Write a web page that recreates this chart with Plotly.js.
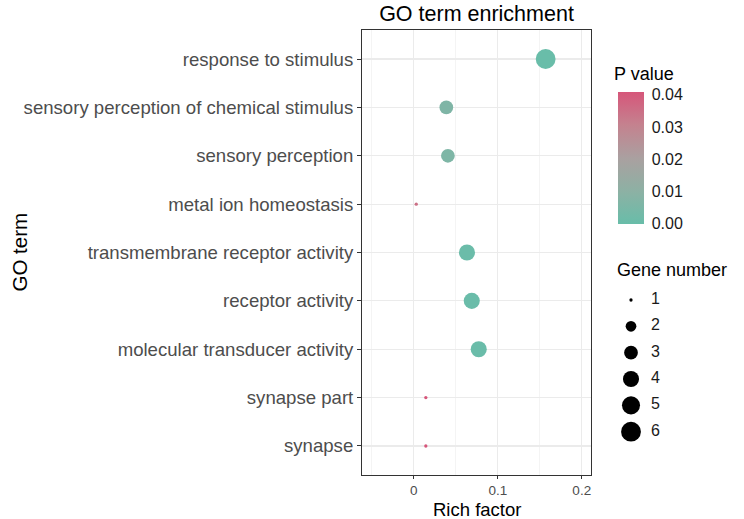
<!DOCTYPE html>
<html>
<head>
<meta charset="utf-8">
<script src="https://cdn.plot.ly/plotly-3.0.1.min.js"></script>
<style>body{margin:0;background:#fff}</style>
</head>
<body>
<div id="chart" style="width:744px;height:519px"></div>
<script>
// ---- data ----
const goTerms = [
  "response to stimulus",
  "sensory perception of chemical stimulus",
  "sensory perception",
  "metal ion homeostasis",
  "transmembrane receptor activity",
  "receptor activity",
  "molecular transducer activity",
  "synapse part",
  "synapse"
];
const richFactor = [0.157, 0.0387, 0.0406, 0.0029, 0.0633, 0.069, 0.0773, 0.0143, 0.0143];
const pValue     = [0.0003, 0.0065, 0.0062, 0.035, 0.0008, 0.0006, 0.0005, 0.041, 0.041];
const geneNumber = [6, 3, 3, 1, 4, 4, 4, 1, 1];
const sizeLegendValues = [1, 2, 3, 4, 5, 6];
const sizeLegendLabels = ["1", "2", "3", "4", "5", "6"];
const pTickVals = [0, 0.01, 0.02, 0.03, 0.04];
const xTickVals = [0, 0.1, 0.2];
const xTickText = ["0", "0.1", "0.2"];

// ---- layout geometry (pixels) ----
const W = 744, H = 519;
const M = {l: 362, r: 10, t: 30, b: 44};
const plotW = W - M.l - M.r, plotH = H - M.t - M.b;
const plotBottom = H - M.b;
const px = x => (x - M.l) / plotW;       // pixel x -> paper x
const py = y => (plotBottom - y) / plotH; // pixel y -> paper y

// ---- styling helpers ----
const FONT = "Liberation Sans, Arial, sans-serif";
const gMin = 1, gMax = 6;
function geneToPx(v) { // ggplot-like area scale, size range 1..6
  const s = 1 + 5 * Math.sqrt((v - gMin) / (gMax - gMin));
  return s * 3.3;
}
const colorscale = [
  [0.0, "#68BDA9"],
  [0.25, "#8DB1A4"],
  [0.5, "#AAA0A0"],
  [0.75, "#C4828F"],
  [1.0, "#D6567A"]
];

const main = {
  type: "scatter",
  mode: "markers",
  x: richFactor,
  y: goTerms,
  xaxis: "x", yaxis: "y",
  marker: {
    size: geneNumber.map(geneToPx),
    sizemode: "diameter",
    color: pValue,
    cmin: 0, cmax: 0.041,
    colorscale: colorscale,
    line: {width: 0},
    opacity: 1,
    showscale: true,
    colorbar: {
      x: px(617.7), xanchor: "left", xref: "paper",
      y: py(157.5), yanchor: "middle", yref: "paper",
      thickness: 26, thicknessmode: "pixels",
      len: 131.6, lenmode: "pixels",
      xpad: 0, ypad: 0,
      outlinewidth: 0,
      tickmode: "array", tickvals: pTickVals,
      tickformat: ".2f",
      ticks: "outside", ticklen: 5, tickcolor: "#ffffff", tickwidth: 1,
      tickfont: {family: FONT, size: 16, color: "#1A1A1A"}
    }
  },
  hoverinfo: "x+y",
  showlegend: false
};

const legendDots = {
  type: "scatter",
  mode: "markers",
  x: sizeLegendValues.map(() => 0),
  y: sizeLegendValues,
  xaxis: "x2", yaxis: "y2",
  marker: {size: sizeLegendValues.map(geneToPx), color: "#000000", opacity: 1, line: {width: 0}},
  hoverinfo: "skip",
  showlegend: false
};
const legendText = {
  type: "scatter",
  mode: "text",
  x: sizeLegendValues.map(() => 1),
  y: sizeLegendValues,
  text: sizeLegendLabels,
  textposition: "middle right",
  textfont: {family: FONT, size: 16, color: "#1A1A1A"},
  xaxis: "x2", yaxis: "y2",
  hoverinfo: "skip",
  showlegend: false
};

const layout = {
  width: W, height: H,
  margin: M,
  paper_bgcolor: "#ffffff",
  plot_bgcolor: "#ffffff",
  font: {family: FONT},
  title: {
    text: "GO term enrichment",
    font: {family: FONT, size: 21.5, color: "#000000"},
    xref: "paper", x: px(476.5), xanchor: "center",
    yref: "container", y: 1 - 13 / H, yanchor: "middle"
  },
  xaxis: {
    domain: [0, px(591)],
    range: [-0.0617, 0.211],
    tickmode: "array", tickvals: xTickVals, ticktext: xTickText,
    showgrid: true, gridcolor: "#EBEBEB", gridwidth: 1.1,
    minor: {tickmode: "array", tickvals: [-0.05, 0.05, 0.15], showgrid: true, gridcolor: "#EBEBEB", gridwidth: 0.55, ticks: ""},
    zeroline: false,
    showline: true, mirror: true, linecolor: "#333333", linewidth: 1,
    ticks: "outside", ticklen: 3, tickcolor: "#333333", tickwidth: 1,
    tickfont: {family: FONT, size: 13.5, color: "#4D4D4D"},
    automargin: false, fixedrange: true
  },
  yaxis: {
    type: "category",
    categoryorder: "array", categoryarray: goTerms,
    range: [goTerms.length - 1 + 0.6, -0.6],
    showgrid: true, gridcolor: "#EBEBEB", gridwidth: 1.1,
    zeroline: false,
    showline: true, mirror: true, linecolor: "#333333", linewidth: 1,
    ticks: "outside", ticklen: 4, tickcolor: "#333333", tickwidth: 1,
    tickfont: {family: FONT, size: 18.6, color: "#4D4D4D"},
    automargin: false, fixedrange: true
  },
  xaxis2: {
    domain: [px(620), 1],
    range: [-0.55, -0.55 + (W - M.r - 620) / 20],
    visible: false, fixedrange: true
  },
  yaxis2: {
    anchor: "x2",
    domain: [py(450), py(280)],
    range: [1 + 150 / 26.34, 1 - 20 / 26.34],
    visible: false, fixedrange: true
  },
  annotations: [
    {text: "Rich factor", xref: "paper", yref: "paper",
     x: px(476.5), xanchor: "center",
     y: py(509), yanchor: "middle",
     showarrow: false, font: {family: FONT, size: 18.5, color: "#000000"}},
    {text: "GO term", xref: "paper", yref: "paper", textangle: -90,
     x: px(19), xanchor: "center",
     y: 0.5, yanchor: "middle",
     showarrow: false, font: {family: FONT, size: 20.5, color: "#000000"}},
    {text: "P value", xref: "paper", yref: "paper",
     x: px(612), xanchor: "left",
     y: py(74), yanchor: "middle",
     showarrow: false, font: {family: FONT, size: 18, color: "#000000"}},
    {text: "Gene number", xref: "paper", yref: "paper",
     x: px(615), xanchor: "left",
     y: py(270), yanchor: "middle",
     showarrow: false, font: {family: FONT, size: 18, color: "#000000"}}
  ]
};

Plotly.newPlot("chart", [main, legendDots, legendText], layout, {displayModeBar: false, staticPlot: true});
</script>
</body>
</html>
